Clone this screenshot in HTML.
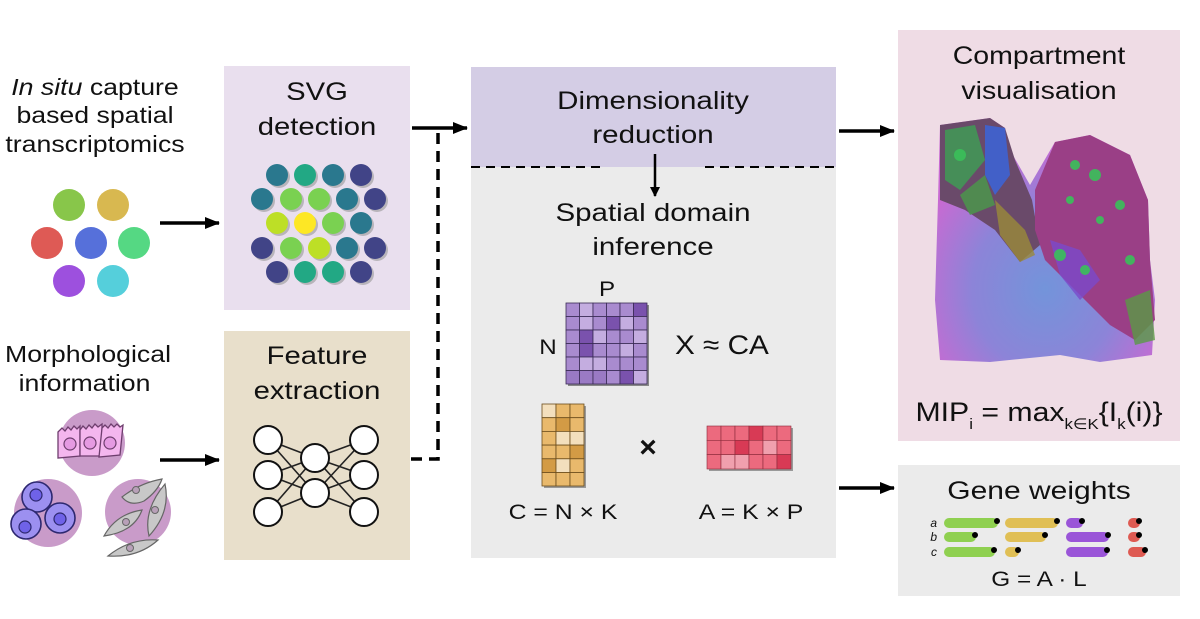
<!DOCTYPE html>
<html><head><meta charset="utf-8"><style>
html,body{margin:0;padding:0;background:#fff}
svg{display:block}
text{font-family:"Liberation Sans",sans-serif;fill:#111}
</style></head><body>
<svg width="1200" height="619" viewBox="0 0 1200 619" xmlns="http://www.w3.org/2000/svg">
<defs>
<marker id="ah" markerWidth="10" markerHeight="10" refX="9" refY="5" orient="auto" markerUnits="userSpaceOnUse"><path d="M0,0 L10,5 L0,10 z" fill="#000"/></marker>
<marker id="ah2" markerWidth="15" markerHeight="12" refX="14" refY="6" orient="auto" markerUnits="userSpaceOnUse"><path d="M0,0 L15,6 L0,12 z" fill="#000"/></marker>
<radialGradient id="tb" cx="0.5" cy="0.7" r="0.6"><stop offset="0" stop-color="#7394da"/><stop offset="0.55" stop-color="#8c84d8"/><stop offset="1" stop-color="#c86ad2"/></radialGradient>
</defs>

<!-- Boxes -->
<rect x="224" y="66" width="186" height="244" fill="#e9dfee"/>
<rect x="224" y="331" width="186" height="229" fill="#e8dfcb"/>
<rect x="471" y="67" width="365" height="100" fill="#d4cde5"/>
<rect x="471" y="167" width="365" height="391" fill="#ebebeb"/>
<rect x="898" y="30" width="282" height="411" fill="#efdce5"/>
<rect x="898" y="465" width="282" height="131" fill="#ebebeb"/>

<!-- left texts -->
<g transform="translate(95 0) scale(1.16 1)" font-size="23" text-anchor="middle">
<text x="0" y="95"><tspan font-style="italic">In situ</tspan> capture</text>
<text x="0" y="123">based spatial</text>
<text x="0" y="152">transcriptomics</text>
</g>
<g transform="translate(88 0) scale(1.16 1)" font-size="23" text-anchor="middle">
<text x="0" y="362">Morphological</text>
<text x="-3" y="391">information</text>
</g>

<!-- left circles -->
<circle cx="69" cy="205" r="16" fill="#88c64a"/>
<circle cx="113" cy="205" r="16" fill="#d8b850"/>
<circle cx="47" cy="243" r="16" fill="#de5a55"/>
<circle cx="91" cy="243" r="16" fill="#5670da"/>
<circle cx="134" cy="243" r="16" fill="#55d883"/>
<circle cx="69" cy="281" r="16" fill="#9d50de"/>
<circle cx="113" cy="281" r="16" fill="#55cfdb"/>

<!-- cells -->
<circle cx="92" cy="443" r="33" fill="#c99bc9"/>
<g stroke="#6e3e6e" stroke-width="1.3" fill="#f4b6ee">
<path d="M58,432 l4,-4 3,3 3,-4 3,3 3,-4 3,3 3,-3 l0,30 -22,2 z"/>
<path d="M80,430 l3,-4 3,3 3,-4 3,3 3,-4 3,3 4,-3 l0,32 -22,0 z"/>
<path d="M102,428 l3,-3 3,3 3,-4 3,3 3,-3 3,3 3,-2 l-3,30 -21,2 z"/>
</g>
<g fill="#e59ae2" stroke="#6e3e6e" stroke-width="1.2"><circle cx="70" cy="444" r="6"/><circle cx="90" cy="443" r="6"/><circle cx="110" cy="443" r="6"/></g>
<circle cx="48" cy="513" r="34" fill="#c99bc9"/>
<g stroke="#2d2870" stroke-width="1.6" fill="#9c90f0">
<circle cx="37" cy="497" r="15"/><circle cx="26" cy="524" r="15"/><circle cx="60" cy="518" r="15"/></g>
<g fill="#6f62e8" stroke="#2d2870" stroke-width="1.2"><circle cx="36" cy="495" r="6"/><circle cx="25" cy="527" r="6"/><circle cx="60" cy="519" r="6"/></g>
<circle cx="138" cy="512" r="33" fill="#c99bc9"/>
<g fill="#c8c8c8" stroke="#666" stroke-width="1.2">
<path d="M122,497 q18,-14 40,-18 q-4,12 -18,22 q-14,6 -22,-4z"/>
<path d="M165,484 q6,28 -16,52 q-6,-26 16,-52z"/>
<path d="M104,536 q12,-22 38,-26 q-8,22 -38,26z"/>
<path d="M108,556 q22,-18 50,-16 q-20,18 -50,16z"/>
</g>
<g fill="#b8a0b8" stroke="#666" stroke-width="1"><circle cx="136" cy="490" r="3.5"/><circle cx="155" cy="510" r="3.5"/><circle cx="126" cy="522" r="3.5"/><circle cx="130" cy="548" r="3.5"/></g>

<!-- SVG detection -->
<g transform="translate(317 0) scale(1.17 1)" font-size="25" text-anchor="middle">
<text x="0" y="100">SVG</text>
<text x="0" y="135">detection</text>
</g>
<g fill="#999" opacity="0.6">
<circle cx="279" cy="177" r="11"/><circle cx="307" cy="177" r="11"/><circle cx="335" cy="177" r="11"/><circle cx="363" cy="177" r="11"/>
<circle cx="264" cy="201" r="11"/><circle cx="293" cy="201" r="11"/><circle cx="321" cy="201" r="11"/><circle cx="349" cy="201" r="11"/><circle cx="377" cy="201" r="11"/>
<circle cx="279" cy="225" r="11"/><circle cx="307" cy="225" r="11"/><circle cx="335" cy="225" r="11"/><circle cx="363" cy="225" r="11"/>
<circle cx="264" cy="250" r="11"/><circle cx="293" cy="250" r="11"/><circle cx="321" cy="250" r="11"/><circle cx="349" cy="250" r="11"/><circle cx="377" cy="250" r="11"/>
<circle cx="279" cy="274" r="11"/><circle cx="307" cy="274" r="11"/><circle cx="335" cy="274" r="11"/><circle cx="363" cy="274" r="11"/>
</g>
<circle cx="277" cy="175" r="11" fill="#2a788e"/><circle cx="305" cy="175" r="11" fill="#22a884"/><circle cx="333" cy="175" r="11" fill="#2a788e"/><circle cx="361" cy="175" r="11" fill="#414487"/>
<circle cx="262" cy="199" r="11" fill="#2a788e"/><circle cx="291" cy="199" r="11" fill="#7ad151"/><circle cx="319" cy="199" r="11" fill="#7ad151"/><circle cx="347" cy="199" r="11" fill="#2a788e"/><circle cx="375" cy="199" r="11" fill="#414487"/>
<circle cx="277" cy="223" r="11" fill="#bddf26"/><circle cx="305" cy="223" r="11" fill="#fde725"/><circle cx="333" cy="223" r="11" fill="#7ad151"/><circle cx="361" cy="223" r="11" fill="#2a788e"/>
<circle cx="262" cy="248" r="11" fill="#414487"/><circle cx="291" cy="248" r="11" fill="#7ad151"/><circle cx="319" cy="248" r="11" fill="#bddf26"/><circle cx="347" cy="248" r="11" fill="#2a788e"/><circle cx="375" cy="248" r="11" fill="#414487"/>
<circle cx="277" cy="272" r="11" fill="#414487"/><circle cx="305" cy="272" r="11" fill="#22a884"/><circle cx="333" cy="272" r="11" fill="#22a884"/><circle cx="361" cy="272" r="11" fill="#414487"/>

<!-- Feature extraction -->
<g transform="translate(317 0) scale(1.17 1)" font-size="25" text-anchor="middle">
<text x="0" y="364">Feature</text>
<text x="0" y="399">extraction</text>
</g>
<g stroke="#222" stroke-width="1.6">
<line x1="268" y1="440" x2="315" y2="458"/><line x1="268" y1="440" x2="315" y2="493"/>
<line x1="268" y1="475" x2="315" y2="458"/><line x1="268" y1="475" x2="315" y2="493"/>
<line x1="268" y1="512" x2="315" y2="458"/><line x1="268" y1="512" x2="315" y2="493"/>
<line x1="364" y1="440" x2="315" y2="458"/><line x1="364" y1="440" x2="315" y2="493"/>
<line x1="364" y1="475" x2="315" y2="458"/><line x1="364" y1="475" x2="315" y2="493"/>
<line x1="364" y1="512" x2="315" y2="458"/><line x1="364" y1="512" x2="315" y2="493"/>
</g>
<g fill="#fff" stroke="#111" stroke-width="2">
<circle cx="268" cy="440" r="14"/><circle cx="268" cy="475" r="14"/><circle cx="268" cy="512" r="14"/>
<circle cx="315" cy="458" r="14"/><circle cx="315" cy="493" r="14"/>
<circle cx="364" cy="440" r="14"/><circle cx="364" cy="475" r="14"/><circle cx="364" cy="512" r="14"/>
</g>

<!-- Arrows -->
<line x1="160" y1="223" x2="219" y2="223" stroke="#000" stroke-width="3.5" marker-end="url(#ah2)"/>
<line x1="160" y1="460" x2="219" y2="460" stroke="#000" stroke-width="3.5" marker-end="url(#ah2)"/>
<line x1="412" y1="128" x2="467" y2="128" stroke="#000" stroke-width="3.5" marker-end="url(#ah2)"/>
<path d="M411,459 L438,459 L438,130" fill="none" stroke="#000" stroke-width="3.5" stroke-dasharray="11,7"/>
<line x1="839" y1="131" x2="894" y2="131" stroke="#000" stroke-width="3.5" marker-end="url(#ah2)"/>
<line x1="839" y1="488" x2="894" y2="488" stroke="#000" stroke-width="3.5" marker-end="url(#ah2)"/>
<line x1="655" y1="154" x2="655" y2="196" stroke="#000" stroke-width="2.5" marker-end="url(#ah)"/>
<line x1="471" y1="167" x2="605" y2="167" stroke="#000" stroke-width="2" stroke-dasharray="9,6"/>
<line x1="705" y1="167" x2="836" y2="167" stroke="#000" stroke-width="2" stroke-dasharray="9,6"/>

<!-- Center texts -->
<g transform="translate(653 0) scale(1.18 1)" font-size="25" text-anchor="middle">
<text x="0" y="109">Dimensionality</text>
<text x="0" y="143">reduction</text>
<text x="0" y="221">Spatial domain</text>
<text x="0" y="255">inference</text>
</g>
<g transform="translate(607 0) scale(1.15 1)"><text x="0" y="296" font-size="21" text-anchor="middle">P</text></g>
<g transform="translate(548 0) scale(1.15 1)"><text x="0" y="354" font-size="21" text-anchor="middle">N</text></g>
<g transform="translate(675 0) scale(1.1 1)"><text x="0" y="354" font-size="27">X ≈ CA</text></g>

<!-- X matrix -->
<rect x="568" y="305" width="81" height="81" fill="#888"/>
<g stroke="#3a2b55" stroke-width="0.8">
<rect x="566" y="303" width="13.5" height="13.5" fill="#a98bcf"/><rect x="579.5" y="303" width="13.5" height="13.5" fill="#c4ade0"/><rect x="593" y="303" width="13.5" height="13.5" fill="#a98bcf"/><rect x="606.5" y="303" width="13.5" height="13.5" fill="#a98bcf"/><rect x="620" y="303" width="13.5" height="13.5" fill="#a98bcf"/><rect x="633.5" y="303" width="13.5" height="13.5" fill="#7a52ad"/>
<rect x="566" y="316.5" width="13.5" height="13.5" fill="#a98bcf"/><rect x="579.5" y="316.5" width="13.5" height="13.5" fill="#c4ade0"/><rect x="593" y="316.5" width="13.5" height="13.5" fill="#a98bcf"/><rect x="606.5" y="316.5" width="13.5" height="13.5" fill="#7a52ad"/><rect x="620" y="316.5" width="13.5" height="13.5" fill="#c4ade0"/><rect x="633.5" y="316.5" width="13.5" height="13.5" fill="#a98bcf"/>
<rect x="566" y="330" width="13.5" height="13.5" fill="#a98bcf"/><rect x="579.5" y="330" width="13.5" height="13.5" fill="#7a52ad"/><rect x="593" y="330" width="13.5" height="13.5" fill="#c4ade0"/><rect x="606.5" y="330" width="13.5" height="13.5" fill="#a98bcf"/><rect x="620" y="330" width="13.5" height="13.5" fill="#a98bcf"/><rect x="633.5" y="330" width="13.5" height="13.5" fill="#c4ade0"/>
<rect x="566" y="343.5" width="13.5" height="13.5" fill="#a98bcf"/><rect x="579.5" y="343.5" width="13.5" height="13.5" fill="#7a52ad"/><rect x="593" y="343.5" width="13.5" height="13.5" fill="#a98bcf"/><rect x="606.5" y="343.5" width="13.5" height="13.5" fill="#a98bcf"/><rect x="620" y="343.5" width="13.5" height="13.5" fill="#c4ade0"/><rect x="633.5" y="343.5" width="13.5" height="13.5" fill="#a98bcf"/>
<rect x="566" y="357" width="13.5" height="13.5" fill="#a98bcf"/><rect x="579.5" y="357" width="13.5" height="13.5" fill="#c4ade0"/><rect x="593" y="357" width="13.5" height="13.5" fill="#c4ade0"/><rect x="606.5" y="357" width="13.5" height="13.5" fill="#a98bcf"/><rect x="620" y="357" width="13.5" height="13.5" fill="#a98bcf"/><rect x="633.5" y="357" width="13.5" height="13.5" fill="#a98bcf"/>
<rect x="566" y="370.5" width="13.5" height="13.5" fill="#9a7ac4"/><rect x="579.5" y="370.5" width="13.5" height="13.5" fill="#9a7ac4"/><rect x="593" y="370.5" width="13.5" height="13.5" fill="#9a7ac4"/><rect x="606.5" y="370.5" width="13.5" height="13.5" fill="#a98bcf"/><rect x="620" y="370.5" width="13.5" height="13.5" fill="#7a52ad"/><rect x="633.5" y="370.5" width="13.5" height="13.5" fill="#c4ade0"/>
</g>

<!-- C matrix -->
<rect x="544" y="406" width="42" height="82" fill="#999"/>
<g stroke="#6b4d1c" stroke-width="0.8">
<rect x="542" y="404" width="14" height="13.7" fill="#f3dfbd"/><rect x="556" y="404" width="14" height="13.7" fill="#e9b96c"/><rect x="570" y="404" width="14" height="13.7" fill="#e9b96c"/>
<rect x="542" y="417.7" width="14" height="13.7" fill="#e9b96c"/><rect x="556" y="417.7" width="14" height="13.7" fill="#d39b45"/><rect x="570" y="417.7" width="14" height="13.7" fill="#e9b96c"/>
<rect x="542" y="431.4" width="14" height="13.7" fill="#e9b96c"/><rect x="556" y="431.4" width="14" height="13.7" fill="#f3dfbd"/><rect x="570" y="431.4" width="14" height="13.7" fill="#f3dfbd"/>
<rect x="542" y="445.1" width="14" height="13.7" fill="#e9b96c"/><rect x="556" y="445.1" width="14" height="13.7" fill="#e9b96c"/><rect x="570" y="445.1" width="14" height="13.7" fill="#d39b45"/>
<rect x="542" y="458.8" width="14" height="13.7" fill="#d39b45"/><rect x="556" y="458.8" width="14" height="13.7" fill="#f3dfbd"/><rect x="570" y="458.8" width="14" height="13.7" fill="#e9b96c"/>
<rect x="542" y="472.5" width="14" height="13.5" fill="#e9b96c"/><rect x="556" y="472.5" width="14" height="13.5" fill="#e9b96c"/><rect x="570" y="472.5" width="14" height="13.5" fill="#e9b96c"/>
</g>
<text x="648" y="457" font-size="30" font-weight="bold" text-anchor="middle">×</text>
<!-- A matrix -->
<rect x="709" y="428" width="84" height="43" fill="#999"/>
<g stroke="#8a2a3a" stroke-width="0.6">
<rect x="707" y="426" width="14" height="14.3" fill="#ec6a7e"/><rect x="721" y="426" width="14" height="14.3" fill="#ec6a7e"/><rect x="735" y="426" width="14" height="14.3" fill="#ec6a7e"/><rect x="749" y="426" width="14" height="14.3" fill="#d83a55"/><rect x="763" y="426" width="14" height="14.3" fill="#ec6a7e"/><rect x="777" y="426" width="14" height="14.3" fill="#ec6a7e"/>
<rect x="707" y="440.3" width="14" height="14.3" fill="#ec6a7e"/><rect x="721" y="440.3" width="14" height="14.3" fill="#ec6a7e"/><rect x="735" y="440.3" width="14" height="14.3" fill="#d83a55"/><rect x="749" y="440.3" width="14" height="14.3" fill="#ec6a7e"/><rect x="763" y="440.3" width="14" height="14.3" fill="#f0a0ae"/><rect x="777" y="440.3" width="14" height="14.3" fill="#ec6a7e"/>
<rect x="707" y="454.6" width="14" height="14.4" fill="#ec6a7e"/><rect x="721" y="454.6" width="14" height="14.4" fill="#f0a0ae"/><rect x="735" y="454.6" width="14" height="14.4" fill="#f0a0ae"/><rect x="749" y="454.6" width="14" height="14.4" fill="#ec6a7e"/><rect x="763" y="454.6" width="14" height="14.4" fill="#ec6a7e"/><rect x="777" y="454.6" width="14" height="14.4" fill="#d83a55"/>
</g>
<g transform="translate(563 0) scale(1.18 1)"><text x="0" y="519" font-size="21" text-anchor="middle">C = N × K</text></g>
<g transform="translate(751 0) scale(1.18 1)"><text x="0" y="519" font-size="21" text-anchor="middle">A = K × P</text></g>

<!-- Compartment -->
<g transform="translate(1039 0) scale(1.14 1)" font-size="25" text-anchor="middle">
<text x="0" y="64">Compartment</text>
<text x="0" y="99">visualisation</text>
</g>
<path d="M940,125 L990,118 L1005,128 L1010,150 L1030,185 L1055,142 L1090,135 L1130,155 L1148,200 L1150,260 L1155,300 L1152,355 L1100,362 L1060,355 L990,362 L940,360 L935,300 L938,200 Z" fill="url(#tb)"/>
<path d="M940,125 L990,118 L1005,128 L1015,160 L1032,200 L1040,245 L1020,262 L995,230 L965,210 L940,200 Z" fill="#6a4a6a"/>
<path d="M945,130 L975,125 L985,160 L960,190 L945,180Z" fill="#3f9a55" opacity="0.85"/>
<path d="M960,195 L985,175 L995,205 L970,215Z" fill="#4a9a4a" opacity="0.8"/>
<path d="M985,125 L1005,128 L1010,175 L995,195 L985,175Z" fill="#4260c8"/>
<path d="M995,200 L1025,230 L1035,255 L1020,262 L1000,235Z" fill="#9a8a3a" opacity="0.8"/>
<path d="M1035,190 L1055,142 L1090,135 L1130,155 L1148,200 L1150,260 L1155,320 L1135,340 L1110,325 L1075,290 L1045,260 L1035,230Z" fill="#9a3f86"/>
<path d="M1050,240 L1080,250 L1100,280 L1080,300 L1060,275Z" fill="#7a4acb" opacity="0.8"/>
<path d="M1125,300 L1150,290 L1155,340 L1135,345Z" fill="#5a9a45" opacity="0.8"/>
<g fill="#3ac05a" opacity="0.9"><circle cx="1075" cy="165" r="5"/><circle cx="1095" cy="175" r="6"/><circle cx="1120" cy="205" r="5"/><circle cx="1060" cy="255" r="6"/><circle cx="1085" cy="270" r="5"/><circle cx="1130" cy="260" r="5"/><circle cx="960" cy="155" r="6"/><circle cx="1100" cy="220" r="4"/><circle cx="1070" cy="200" r="4"/></g>
<g transform="translate(1039 0) scale(1.12 1)"><text x="0" y="421" font-size="27" text-anchor="middle">MIP<tspan font-size="15" dy="8">i</tspan><tspan dy="-8"> = max</tspan><tspan font-size="15" dy="8">k∈K</tspan><tspan dy="-8">{I</tspan><tspan font-size="15" dy="8">k</tspan><tspan dy="-8">(i)}</tspan></text></g>

<!-- Gene weights -->
<g transform="translate(1039 0) scale(1.2 1)"><text x="0" y="499" font-size="25" text-anchor="middle">Gene weights</text></g>
<g font-size="12" font-style="italic" text-anchor="end"><text x="937" y="527">a</text><text x="937" y="541">b</text><text x="937" y="556">c</text></g>
<g stroke-linecap="round" stroke-width="10">
<line x1="949" y1="523" x2="993" y2="523" stroke="#8fd050"/><line x1="949" y1="537" x2="971" y2="537" stroke="#8fd050"/><line x1="949" y1="552" x2="990" y2="552" stroke="#8fd050"/>
<line x1="1010" y1="523" x2="1053" y2="523" stroke="#e0bf55"/><line x1="1010" y1="537" x2="1041" y2="537" stroke="#e0bf55"/><line x1="1010" y1="552" x2="1014" y2="552" stroke="#e0bf55"/>
<line x1="1071" y1="523" x2="1078" y2="523" stroke="#9a55d8"/><line x1="1071" y1="537" x2="1104" y2="537" stroke="#9a55d8"/><line x1="1071" y1="552" x2="1103" y2="552" stroke="#9a55d8"/>
<line x1="1133" y1="523" x2="1135" y2="523" stroke="#de5a52"/><line x1="1133" y1="537" x2="1135" y2="537" stroke="#de5a52"/><line x1="1133" y1="552" x2="1141" y2="552" stroke="#de5a52"/>
</g>
<g fill="#000"><circle cx="997" cy="521" r="3"/><circle cx="975" cy="535" r="3"/><circle cx="994" cy="550" r="3"/>
<circle cx="1057" cy="521" r="3"/><circle cx="1045" cy="535" r="3"/><circle cx="1018" cy="550" r="3"/>
<circle cx="1082" cy="521" r="3"/><circle cx="1108" cy="535" r="3"/><circle cx="1107" cy="550" r="3"/>
<circle cx="1139" cy="521" r="3"/><circle cx="1139" cy="535" r="3"/><circle cx="1145" cy="550" r="3"/></g>
<g transform="translate(1039 0) scale(1.16 1)"><text x="0" y="586" font-size="21" text-anchor="middle">G = A · L</text></g>
</svg>
</body></html>
